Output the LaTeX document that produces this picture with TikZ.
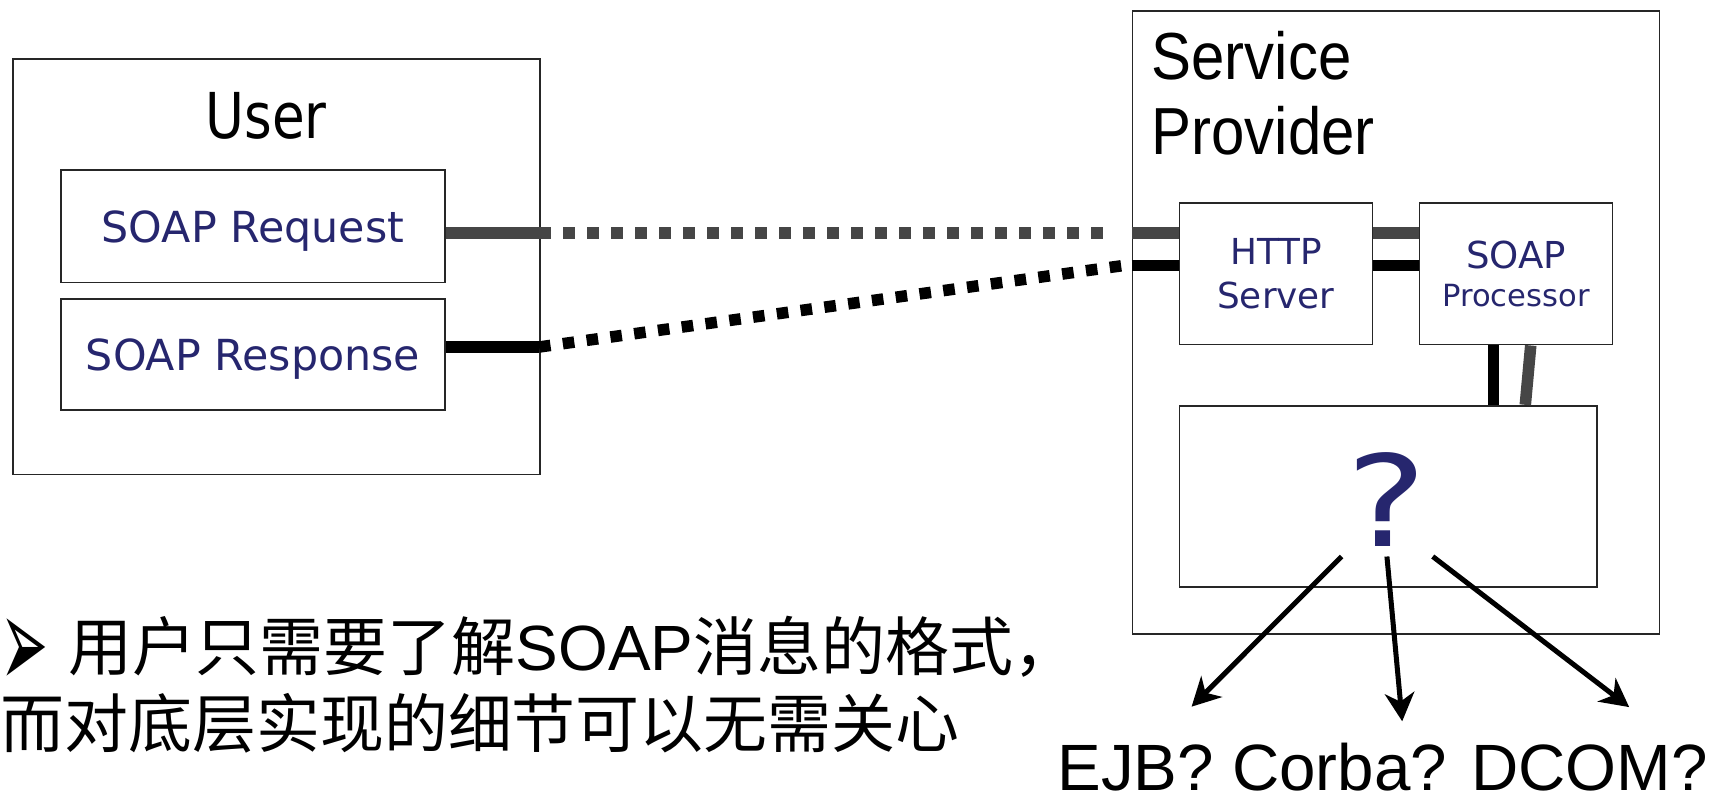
\documentclass[tikz,border=0pt]{standalone}
\usepackage{fontspec}
\setmainfont{DejaVu Sans}
\newfontfamily\tahomafont{DejaVu Sans}[FakeStretch=0.84]
\newfontfamily\narrowfont{Liberation Sans}[FakeStretch=0.9]
\newfontfamily\arialfont{Liberation Sans}
\newfontfamily\qfont{DejaVu Sans}[FakeStretch=1.2]
\newfontfamily\dingfont{DejaVu Sans}
\newfontfamily\cjkfont{Noto Sans CJK SC}
\definecolor{navy1}{RGB}{38,38,110}
\definecolor{gray1}{RGB}{70,70,70}
\usetikzlibrary{arrows.meta, positioning}

\begin{document}
\begin{tikzpicture}[x=1pt, y=-1pt,
  box/.style={draw=black!85, line width=0.8pt, inner sep=0pt, anchor=north west, align=center},
  msgbox/.style={box, text=navy1, font=\fontsize{19.6}{22}\selectfont, text depth=0pt},
  srvbox/.style={box, text=navy1, minimum width=88.5pt, minimum height=65pt},
  reqline/.style={draw=gray1, line width=5.3pt},
  resline/.style={draw=black, line width=5.3pt},
  dots/.style={dash pattern=on 5.3pt off 5.7pt},
  choice/.style={-{Stealth[length=13pt, width=13.5pt, inset=4pt]}, line width=2.3pt},
  note/.style={anchor=base west, inner sep=0pt, font=\cjkfont\fontsize{29.3}{35.5}\selectfont}
]
\useasboundingbox (0,0) rectangle (784,364.3);

% user side
\node[box, minimum width=241.5pt, minimum height=190.5pt] (user) at (5.5,26.5) {};
\node[anchor=base, font=\tahomafont\fontsize{29}{34}\selectfont] (usertitle) at (122,63.3) {User};
\node[msgbox, minimum width=176pt, minimum height=51.5pt] (req) at (27.5,77.5) {SOAP Request};
\node[msgbox, minimum width=176pt, minimum height=51pt] (resp) at (27.5,136.5) {SOAP Response};

% service provider side
\node[box, minimum width=241.5pt, minimum height=285.5pt] (sp) at (518.5,4.5) {};
\node[anchor=north west, inner sep=0pt, align=left, font=\narrowfont\fontsize{30.5}{34.7}\selectfont] (sptitle) at (527.5,14) {Service\\Provider};
\node[srvbox, font=\fontsize{16.4}{20.1}\selectfont] (http) at (540,92.5) {HTTP\\Server};
\node[srvbox, font=\fontsize{17}{17.3}\selectfont] (proc) at (650,92.5) {SOAP\\{\fontsize{14}{17.3}\selectfont Processor}};
\node[box, minimum width=191.5pt, minimum height=83pt] (impl) at (540,185.5) {};
\node[anchor=base, text=navy1, font=\qfont\fontsize{58}{60}\selectfont] (qmark) at (635.5,250.5) {?};

% message lines
\coordinate (reqa) at (247,106.7);
\coordinate (reqb) at (506,106.7);
\coordinate (resa) at (247,159);
\coordinate (resb) at (514.5,121.7);
\draw[reqline] (req.east |- reqa) -- (reqa);
\draw[reqline, dots] (reqa) -- (reqb);
\draw[reqline] (sp.west |- reqb) -- (http.west |- reqb);
\draw[reqline] (http.east |- reqb) -- (proc.west |- reqb);
\draw[resline] (resp.east |- resa) -- (resa);
\draw[resline, dots] (resa) -- (resb);
\draw[resline] (sp.west |- resb) -- (http.west |- resb);
\draw[resline] (http.east |- resb) -- (proc.west |- resb);
\draw[resline] ([xshift=-10.25pt]proc.south) -- ([xshift=-10.25pt]proc.south |- impl.north);
\draw[reqline] ([xshift=6.75pt]proc.south) -- ([xshift=62.75pt]impl.north);

% possible back ends
\coordinate (ejbtip) at (546,323.8);
\coordinate (corbatip) at (642.5,330.5);
\coordinate (dcomtip) at (746.5,324);
\draw[choice] ([shift={(-20.8pt,-4.5pt)}]qmark.base) -- (ejbtip);
\draw[choice] ([shift={(0pt,-4.5pt)}]qmark.base) -- (corbatip);
\draw[choice] ([shift={(21pt,-4.5pt)}]qmark.base) -- (dcomtip);
\node[anchor=base, font=\arialfont\fontsize{30}{34}\selectfont] (techs) at (633.5,362.3) {EJB? Corba? DCOM?};

% note
\node[note] (notea) at (0,307) {\smash{\raisebox{-8.4pt}{\scalebox{1.05}[2.4]{\dingfont\fontsize{25}{30}\selectfont ➢}}}\hspace{9pt}用户只需要了解{\arialfont SOAP}消息的格式，};
\node[note] (noteb) at (0,342.5) {而对底层实现的细节可以无需关心};
\end{tikzpicture}
\end{document}
